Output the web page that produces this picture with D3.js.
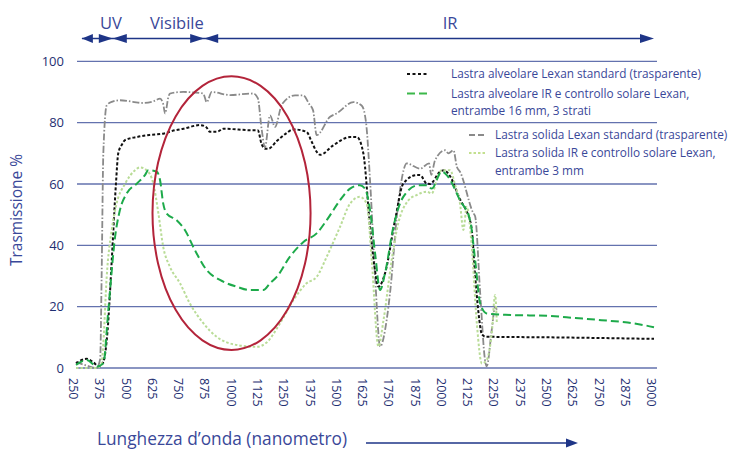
<!DOCTYPE html>
<html><head><meta charset="utf-8">
<script src="https://cdn.jsdelivr.net/npm/d3@7"></script>
<style>body{margin:0;background:#fff;} svg{display:block;font-family:"Open Sans",sans-serif;}</style>
</head><body><svg id="c" width="735" height="450"></svg>
<script>
// ---------- DATA ----------
const xTickLabels = ["250","375","500","625","750","875","1000","1125","1250","1375","1500","1625","1750","1875","2000","2125","2250","2375","2500","2625","2750","2875","3000"];
const yTicks = [0, 20, 40, 60, 80, 100];
const bandNames = ["UV", "Visibile", "IR"];
const bandEdges = [278, 425, 860, 3000];
const bandLabelWl = [416, 730, 2030];

// Lastra alveolare Lexan standard (trasparente)
const wlAlvStd = [250,300,330,360,380,400,420,440,451,470,483,539,600,665,720,760,840,870,887,920,951,1093,1115,1133,1150,1165,1205,1250,1284,1347,1370,1395,1411,1474,1554,1586,1617,1649,1670,1689,1720,1768,1807,1871,1887,1919,1934,1982,2000,2030,2077,2109,2125,2133,2149,2165,2181,2200,2500,3000];
const tAlvStd = [1.5,3,2,0.5,2,12,35,60,70,73,74.3,75.3,76,76.4,77.5,78,79.2,78.5,77,77,78,77.5,77.5,73,71.5,71.5,74,76.5,77.8,77,74,70.5,69.5,72.6,75.3,75.3,70,46,33,26.5,30.8,48.2,60.1,62.9,62.9,60.1,60,64,64.5,62.5,55,51,48,45,30,18,11,10.2,10,9.5];

// Lastra alveolare IR e controllo solare Lexan
const wlAlvIR = [250,301,350,380,404,436,459,491,539,578,594,634,650,665,681,729,768,816,872,935,1015,1078,1141,1173,1205,1268,1332,1395,1443,1506,1554,1601,1625,1649,1673,1697,1720,1760,1807,1879,1919,1942,1990,2014,2077,2125,2149,2173,2204,2315,2500,2625,2750,2875,2950,3000];
const tAlvIR = [1,2.6,0.5,1.5,19,42.8,51.5,56.9,60.1,62.9,64.5,64,61.2,53.6,50.4,48.2,45,38.4,31.9,28.7,26.5,25.4,25.4,27.6,29.7,36.3,41.1,43.9,48.2,54.7,58.5,59.6,58.5,51.5,37.4,25.4,30.8,46,55.8,59.6,59.6,58.5,64,62.9,54.7,48.2,35.2,21,17.8,17.3,17,16.3,15.6,14.8,14,13.3];

// Lastra solida Lexan standard (trasparente)
const wlSolStd = [250,300,348,365,372,380,396,420,459,520,569,620,650,665,674,690,697,760,855,872,896,983,1093,1115,1133,1149,1173,1197,1230,1292,1331,1360,1378,1395,1459,1490,1570,1610,1630,1650,1673,1697,1728,1744,1783,1824,1887,1930,1940,1958,2006,2022,2046,2062,2077,2141,2149,2173,2196,2204,2228,2244,2252];
const tSolStd = [2,0.8,0,3,30,70,85.6,86.8,87.3,86.8,86.4,87,87.8,86,83,88.5,89.5,90,89.5,86.7,90,89,89.5,88,78,72,82.4,78.6,86,88.9,88.9,86,84,75.9,81.9,83,86.7,85.5,80,60,30,7,15.6,24.4,53.7,66.7,65,66.7,63,67.7,71,70,71,65.6,64,50.4,49.5,24.4,2.6,0.5,12.4,20,19];

// Lastra solida IR e controllo solare Lexan
const wlSolIR = [250,350,370,380,396,420,443,483,531,554,586,618,642,665,697,745,792,856,919,1015,1110,1157,1221,1284,1347,1395,1443,1506,1554,1601,1633,1657,1689,1713,1752,1776,1832,1871,1919,1942,1974,1990,2030,2054,2077,2093,2109,2133,2157,2181,2204,2228,2244,2252];
const tSolIR = [0,0,1,8,29.7,45,53.6,60,64.5,65.4,64.5,60.1,50.4,39.5,33,27.6,21,14.6,10.2,7.5,6.9,8.3,14.6,22.1,27.6,29.7,36.3,46,53.6,55.8,53.6,35.2,7,15.6,35.2,45,54.7,56.4,57.5,56.9,62.9,64.5,64.5,59.6,53.6,45,52.6,39.5,14.6,1.5,2.6,11.3,23.8,15];

const legendTop = [["Lastra alveolare Lexan standard (trasparente)"], ["Lastra alveolare IR e controllo solare Lexan,", "entrambe 16 mm, 3 strati"]];
const legendBottom = [["Lastra solida Lexan standard (trasparente)"], ["Lastra solida IR e controllo solare Lexan,", "entrambe 3 mm"]];

// highlight ellipse (data units): centre wavelength, centre %, radius nm, radius %
const ellipseData = [990, 50.5, 376, 44.6];

// ---------- CHART ----------
const svg = d3.select("#c");
const navy = "#1f2f72", textBlue = "#3a4899", gridC = "#6372ae", arrowC = "#1e3587";

const x = d3.scaleLinear().domain([250, 3000]).range([76, 654]);
const y = d3.scaleLinear().domain([0, 100]).range([368, 61.3]);

// gridlines
svg.append("g").selectAll("line").data(yTicks).join("line")
  .attr("x1", 77).attr("x2", 657)
  .attr("y1", d => y(d)).attr("y2", d => y(d))
  .attr("stroke", gridC).attr("stroke-width", 1.3);

// y labels
svg.append("g").selectAll("text").data(yTicks).join("text")
  .attr("x", 64).attr("y", d => y(d)).attr("dy", "0.36em")
  .attr("text-anchor", "end").attr("fill", navy).attr("font-size", 13)
  .text(d => d);

// x axis labels
const xAxis = d3.axisBottom(x).tickValues(xTickLabels.map(Number)).tickSize(0).tickFormat((d, i) => xTickLabels[i]);
const gx = svg.append("g").attr("transform", `translate(0,${y(0)})`).call(xAxis);
gx.select(".domain").remove();
gx.selectAll("text")
  .attr("transform", "rotate(90)")
  .attr("x", 10).attr("y", 3).attr("dy", "0.35em")
  .attr("text-anchor", "start")
  .attr("fill", navy).attr("font-size", 12.5)
  .attr("font-family", "'Open Sans',sans-serif");

// axis titles
svg.append("text").attr("transform", "translate(22,210) rotate(-90)")
  .attr("text-anchor", "middle").attr("fill", textBlue).attr("font-size", 15.5)
  .text("Trasmissione %");
svg.append("text").attr("x", 97).attr("y", 445)
  .attr("fill", textBlue).attr("font-size", 17.3)
  .text("Lunghezza d’onda (nanometro)");

// arrow helper
function head(g, tipX, yy, dir, len = 14, hh = 4.5) {
  g.append("path")
    .attr("d", `M${tipX},${yy} L${tipX - dir * len},${yy - hh} L${tipX - dir * len},${yy + hh} Z`)
    .attr("fill", arrowC);
}
const arrows = svg.append("g");
arrows.append("line").attr("x1", 366).attr("x2", 570).attr("y1", 443).attr("y2", 443)
  .attr("stroke", arrowC).attr("stroke-width", 1.5);
head(arrows, 578, 443, 1, 12, 4.5);

// band arrows at top
const bandY = 38.5;
arrows.append("line").attr("x1", x(bandEdges[0])).attr("x2", x(bandEdges[3]) - 6)
  .attr("y1", bandY).attr("y2", bandY).attr("stroke", arrowC).attr("stroke-width", 1.5);
bandNames.forEach((n, i) => {
  const a = x(bandEdges[i]), b = x(bandEdges[i + 1]);
  head(arrows, a, bandY, -1, i === 0 ? 11 : 14);
  head(arrows, b, bandY, 1, 14);
  svg.append("text").attr("x", x(bandLabelWl[i])).attr("y", 23).attr("dy", "0.35em")
    .attr("text-anchor", "middle").attr("fill", textBlue).attr("font-size", 16.5).text(n);
});

// series
const line = d3.line().x(d => x(d[0])).y(d => y(d[1])).curve(d3.curveMonotoneX);
const zip = (a, b) => a.map((v, i) => [v, b[i]]);
const styles = [
  { data: zip(wlSolStd, tSolStd), stroke: "#8a8a8a", dash: "7,2,1.5,2", w: 1.8 },
  { data: zip(wlAlvStd, tAlvStd), stroke: "#111111", dash: "3,2", w: 2 },
  { data: zip(wlSolIR, tSolIR), stroke: "#b9dc97", dash: "2.5,2", w: 2 },
  { data: zip(wlAlvIR, tAlvIR), stroke: "#1daa4a", dash: "8,4", w: 2 }
];
const gs = svg.append("g").attr("fill", "none");
styles.forEach(s => gs.append("path").attr("d", line(s.data))
  .attr("stroke", s.stroke).attr("stroke-dasharray", s.dash).attr("stroke-width", s.w));

// ellipse
svg.append("ellipse")
  .attr("cx", x(ellipseData[0])).attr("cy", y(ellipseData[1]))
  .attr("rx", x(ellipseData[0] + ellipseData[2]) - x(ellipseData[0]))
  .attr("ry", y(ellipseData[1] - ellipseData[3]) - y(ellipseData[1]))
  .attr("fill", "none").attr("stroke", "#b3243a").attr("stroke-width", 2);

// legend
const lg = svg.append("g").attr("font-size", 11.8).attr("fill", textBlue);
function legItem(x0, x1, tx, ys, lines, st) {
  lg.append("line").attr("x1", x0).attr("x2", x1).attr("y1", ys).attr("y2", ys)
    .attr("stroke", st.stroke).attr("stroke-dasharray", st.dash).attr("stroke-width", 2.2);
  lines.forEach((t, k) => lg.append("text").attr("x", tx).attr("y", ys + k * 17.5).attr("dy", "0.35em").text(t));
}
legItem(407, 429, 451, 74, legendTop[0], { stroke: "#111", dash: "3,2.5" });
legItem(407, 430, 451, 93.5, legendTop[1], { stroke: "#3cb84a", dash: "8,4" });
legItem(469, 485, 495, 135, legendBottom[0], { stroke: "#8a8a8a", dash: "6,3" });
legItem(469, 485, 495, 153, legendBottom[1], { stroke: "#c3e08f", dash: "2.5,2" });
</script>
</body></html>
